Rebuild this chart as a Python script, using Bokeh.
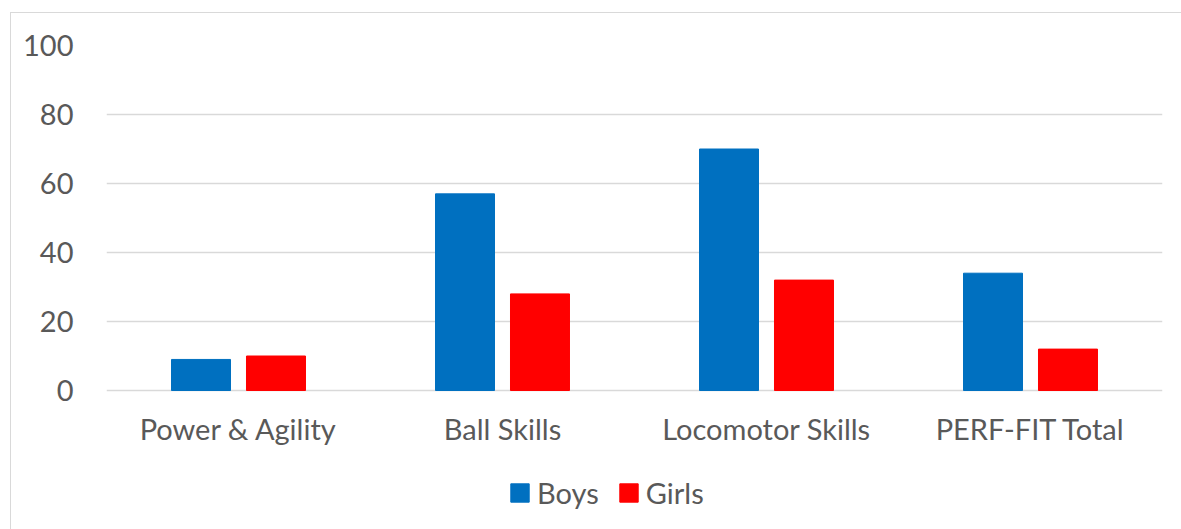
from bokeh.plotting import figure
from bokeh.models import FactorRange, ColumnDataSource, Legend, LegendItem, Range1d, FixedTicker
from bokeh.transform import dodge
from bokeh.embed import file_html
from bokeh.resources import INLINE

categories = ["Power & Agility", "Ball Skills", "Locomotor Skills", "PERF-FIT Total"]
boys = [9, 57, 70, 34]
girls = [10, 28, 32, 12]
y_ticks = [0, 20, 40, 60, 80, 100]

FONT = "Lato"
TXT = "#595959"

src = ColumnDataSource(dict(cat=categories, boys=boys, girls=girls))

# frame spans from the top gridline down to the bottom of the canvas;
# 100 units = 345 px, frame height = 485 px
Y_MIN = 100 - 485 * 100 / 345

p = figure(x_range=FactorRange(*categories, range_padding=0), y_range=Range1d(Y_MIN, 100),
           width=1171, height=517, output_backend="svg", toolbar_location=None,
           min_border_left=95, min_border_right=20, min_border_top=32, min_border_bottom=0)
p.margin = (12, 0, 0, 10)
p.styles = {"border-left": "1px solid #d9d9d9", "border-top": "1px solid #d9d9d9"}
p.outline_line_color = None
p.background_fill_color = "white"
p.border_fill_color = "white"

r1 = p.vbar(x=dodge("cat", -0.142, range=p.x_range), top="boys", width=0.2235, source=src,
            fill_color="#0070C0", line_color="#0070C0")
r2 = p.vbar(x=dodge("cat", 0.142, range=p.x_range), top="girls", width=0.2235, source=src,
            fill_color="#FF0000", line_color="#FF0000")

p.xgrid.grid_line_color = None
p.ygrid.grid_line_color = "#d9d9d9"
p.ygrid.grid_line_width = 1.5
p.yaxis.ticker = FixedTicker(ticks=y_ticks)
p.xaxis.fixed_location = 0

for ax in (p.xaxis, p.yaxis):
    ax.axis_line_color = None
    ax.major_tick_line_color = None
    ax.minor_tick_line_color = None
    ax.major_label_text_font = FONT
    ax.major_label_text_color = TXT
    ax.major_label_text_font_size = "29px"
p.yaxis.major_label_standoff = 27
p.xaxis.major_label_standoff = 14

legend = Legend(items=[LegendItem(label="Boys", renderers=[r1]), LegendItem(label="Girls", renderers=[r2])],
                orientation="horizontal", location=(402, 20), padding=0, margin=0,
                glyph_width=23, glyph_height=23, label_standoff=6, spacing=18,
                label_text_font=FONT, label_text_color=TXT, label_text_font_size="29px",
                border_line_color=None, background_fill_alpha=0)
p.add_layout(legend, "center")

open("out.html", "w").write(file_html(p, INLINE))
